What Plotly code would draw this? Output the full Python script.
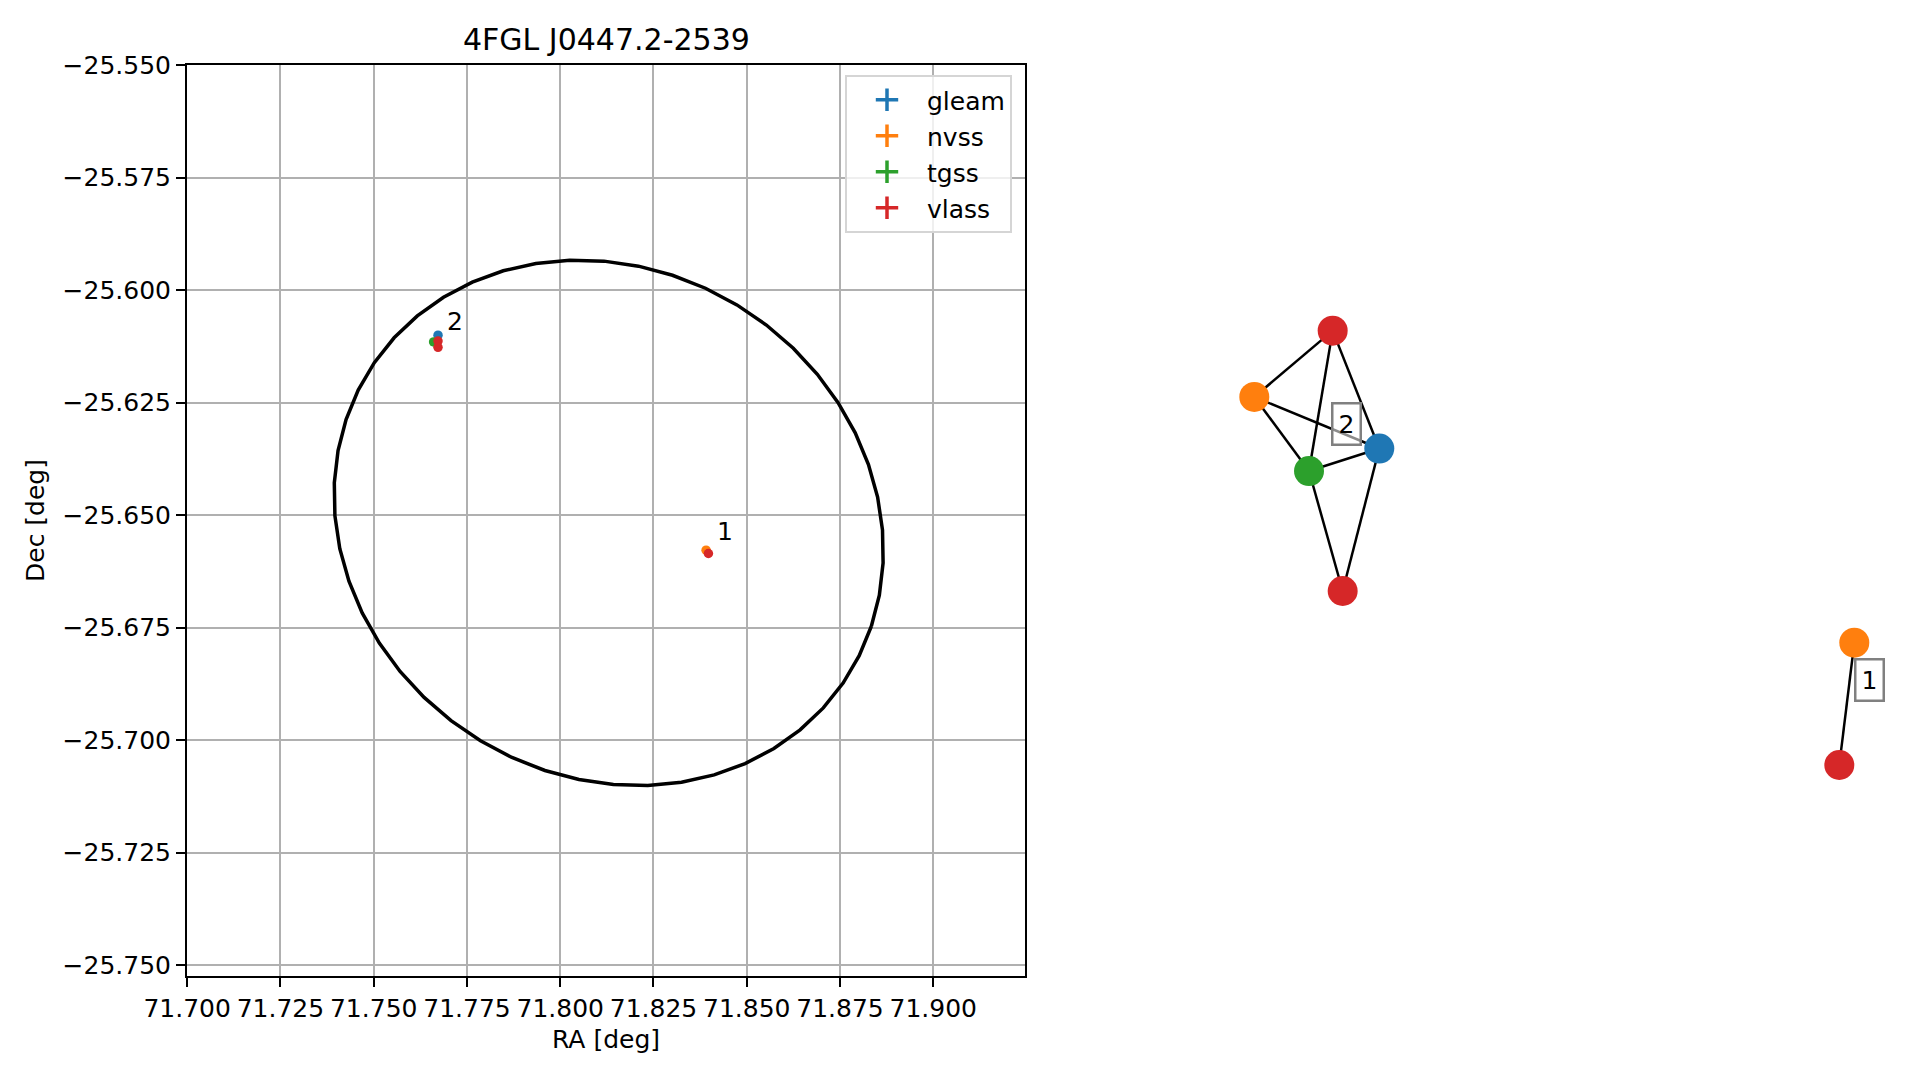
import numpy as np
import plotly.graph_objects as go

# ---------------- data ----------------
catalogs = ["gleam", "nvss", "tgss", "vlass"]
colors = {"gleam": "#1f77b4", "nvss": "#ff7f0e", "tgss": "#2ca02c", "vlass": "#d62728"}

gleam_ra = [71.76724]
gleam_dec = [-25.61000]
gleam_grp = [2]

nvss_ra = [71.83911, 71.76680]
nvss_dec = [-25.65778, -25.61150]
nvss_grp = [1, 2]

tgss_ra = [71.76606]
tgss_dec = [-25.61150]
tgss_grp = [2]

vlass_ra = [71.83973, 71.76724, 71.76724]
vlass_dec = [-25.65851, -25.61130, -25.61270]
vlass_grp = [1, 2, 2]

# 4FGL 95% error ellipse
ell_ra0 = 71.8130
ell_dec0 = -25.6517
ell_semi_major = 0.0675
ell_semi_minor = 0.0571
ell_pa_deg = 109.9

# association graph (layout coordinates of nodes)
node_cat = ["vlass", "nvss", "gleam", "tgss", "vlass", "nvss", "vlass"]
node_grp = [2, 2, 2, 2, 2, 1, 1]
node_x = [0.2841, 0.1884, 0.3410, 0.2552, 0.2963, 0.9210, 0.9027]
node_y = [0.7084, 0.6356, 0.5790, 0.5543, 0.4226, 0.3659, 0.2316]
edges = [(0, 1), (0, 3), (0, 2), (1, 2), (1, 3), (3, 2), (3, 4), (2, 4), (5, 6)]

x_ticks = [71.700, 71.725, 71.750, 71.775, 71.800, 71.825, 71.850, 71.875, 71.900]
y_ticks = [-25.750, -25.725, -25.700, -25.675, -25.650, -25.625, -25.600, -25.575, -25.550]

FONT = "DejaVu Sans"
W, H = 1919, 1080

fig = go.Figure()

# ellipse outline
t = np.linspace(0, 2 * np.pi, 51)
pa = np.deg2rad(ell_pa_deg)
d_east = ell_semi_major * np.cos(t) * np.sin(pa) + ell_semi_minor * np.sin(t) * np.cos(pa)
d_north = ell_semi_major * np.cos(t) * np.cos(pa) - ell_semi_minor * np.sin(t) * np.sin(pa)
ell_x = ell_ra0 + d_east / np.cos(np.deg2rad(ell_dec0))
ell_y = ell_dec0 + d_north
fig.add_trace(go.Scatter(x=ell_x, y=ell_y, mode="lines", line=dict(color="black", width=3.5),
                         showlegend=False, hoverinfo="skip", xaxis="x", yaxis="y"))

src = {
    "gleam": (gleam_ra, gleam_dec, gleam_grp),
    "nvss": (nvss_ra, nvss_dec, nvss_grp),
    "tgss": (tgss_ra, tgss_dec, tgss_grp),
    "vlass": (vlass_ra, vlass_dec, vlass_grp),
}
for cat in catalogs:
    ra, dec, _ = src[cat]
    fig.add_trace(go.Scatter(x=ra, y=dec, mode="markers", name=cat,
                             marker=dict(color=colors[cat], size=9.5),
                             showlegend=False, xaxis="x", yaxis="y"))
    # legend entry (errorbar style glyph)
    fig.add_trace(go.Scatter(x=[None], y=[None], mode="markers", name=cat, legendgroup=cat,
                             marker=dict(color=colors[cat], symbol="cross-thin", size=16,
                                         line=dict(color=colors[cat], width=3.5)),
                             xaxis="x", yaxis="y"))

# cluster labels on sky plot
all_ra, all_dec, all_grp = [], [], []
for cat in catalogs:
    ra, dec, g = src[cat]
    all_ra += ra; all_dec += dec; all_grp += g
all_ra = np.array(all_ra); all_dec = np.array(all_dec); all_grp = np.array(all_grp)
annotations = []
for g in sorted(set(all_grp)):
    m = all_grp == g
    annotations.append(dict(x=all_ra[m].mean(), y=all_dec[m].mean(), xref="x", yref="y",
                            text=str(g), showarrow=False, xanchor="left", yanchor="bottom",
                            xshift=8, yshift=4, font=dict(family=FONT, size=25, color="black")))

# graph edges
ex, ey = [], []
for a, b in edges:
    ex += [node_x[a], node_x[b], None]
    ey += [node_y[a], node_y[b], None]
fig.add_trace(go.Scatter(x=ex, y=ey, mode="lines", line=dict(color="black", width=2.5),
                         showlegend=False, hoverinfo="skip", xaxis="x2", yaxis="y2"))
fig.add_trace(go.Scatter(x=node_x, y=node_y, mode="markers",
                         marker=dict(color=[colors[c] for c in node_cat], size=30),
                         showlegend=False, xaxis="x2", yaxis="y2"))
nx_arr = np.array(node_x); ny_arr = np.array(node_y); ng = np.array(node_grp)
for g in sorted(set(node_grp)):
    m = ng == g
    annotations.append(dict(x=nx_arr[m].mean(), y=ny_arr[m].mean(), xref="x2", yref="y2",
                            text=str(g), showarrow=False, xshift=23, yshift=24,
                            font=dict(family=FONT, size=25, color="black"),
                            bgcolor="rgba(255,255,255,0.55)", bordercolor="#808080",
                            borderwidth=2.5, borderpad=5))

# title
annotations.append(dict(x=(187 + 1025) / 2 / W, y=1 - 40 / H, xref="paper", yref="paper",
                        xanchor="center", yanchor="middle",
                        text="4FGL J0447.2-2539", showarrow=False,
                        font=dict(family=FONT, size=30, color="black")))

axis_common = dict(showgrid=True, gridcolor="#b0b0b0", gridwidth=2, zeroline=False,
                   showline=True, linecolor="black", linewidth=2, mirror=True,
                   ticks="outside", ticklen=9, tickwidth=2, tickcolor="black", automargin=False,
                   tickfont=dict(family=FONT, size=25, color="black"), tickformat=".3f")

fig.update_layout(
    width=W, height=H,
    margin=dict(l=0, r=0, t=0, b=0, autoexpand=False),
    paper_bgcolor="white", plot_bgcolor="white",
    xaxis=dict(domain=[187 / W, 1025 / W], range=[71.69995, 71.9246],
               tickvals=x_ticks, title=dict(text="RA [deg]", font=dict(family=FONT, size=25, color="black"), standoff=8),
               **axis_common),
    yaxis=dict(domain=[1 - 976 / H, 1 - 65 / H], range=[-25.7524, -25.54995],
               tickvals=y_ticks, title=dict(text="Dec [deg]", font=dict(family=FONT, size=25, color="black"), standoff=11),
               **axis_common),
    xaxis2=dict(domain=[1100 / W, 1.0], range=[0, 1], visible=False, automargin=False),
    yaxis2=dict(domain=[1 - 976 / H, 1 - 65 / H], range=[0, 1], visible=False, automargin=False),
    legend=dict(x=845 / W, y=1 - 75 / H, xanchor="left", yanchor="top",
                bgcolor="rgba(255,255,255,0.8)", bordercolor="#d5d5d5", borderwidth=2,
                font=dict(family=FONT, size=25, color="black"), tracegroupgap=0.5,
                itemsizing="trace", itemwidth=70),
    annotations=annotations,
    showlegend=True,
)

fig.write_html("out.html", config={"displayModeBar": False},
               post_script="document.body.style.margin='0';")
